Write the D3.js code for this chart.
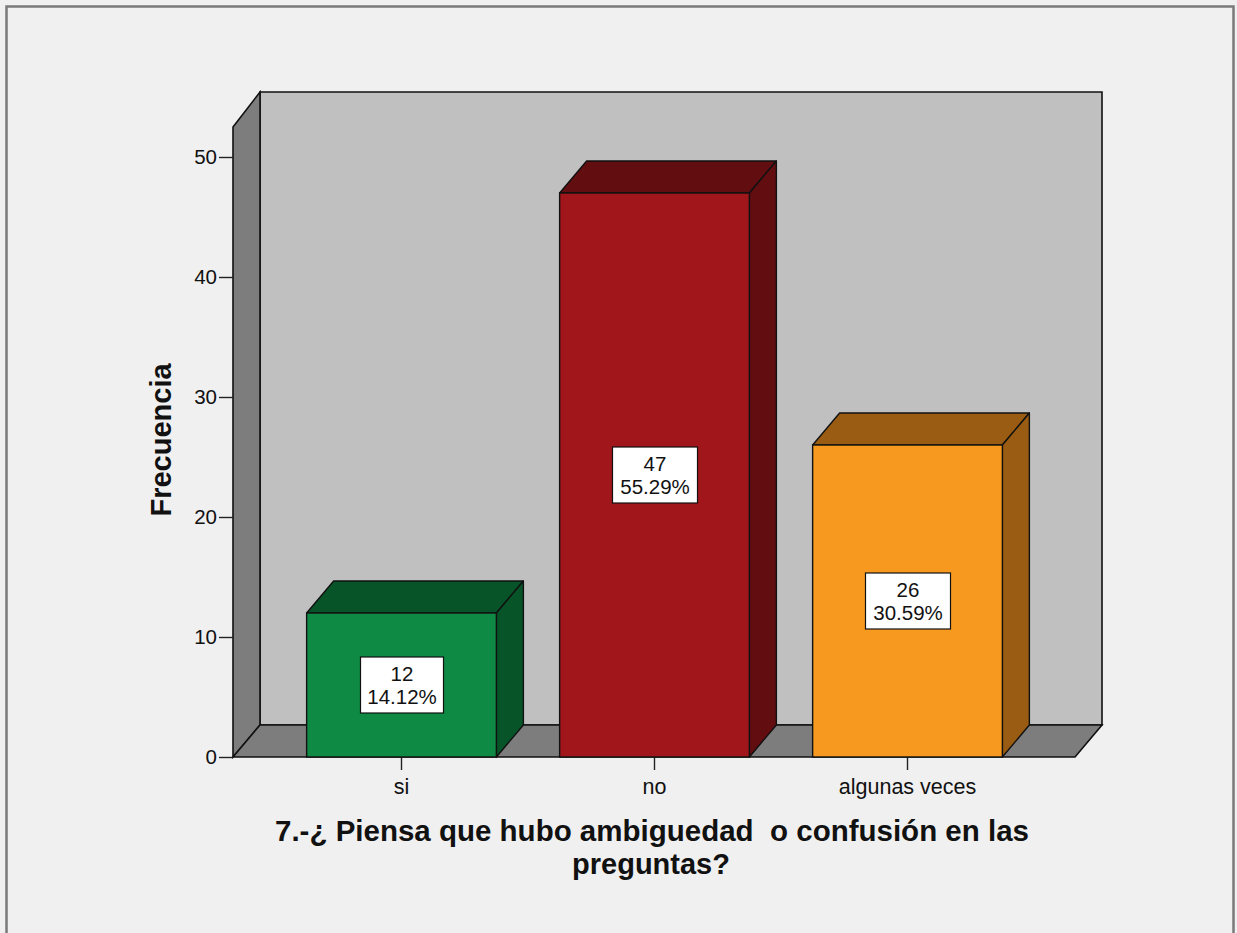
<!DOCTYPE html>
<html>
<head>
<meta charset="utf-8">
<script src="https://cdn.jsdelivr.net/npm/d3@7"></script>
<style>
  html, body { margin: 0; padding: 0; background: #f0f0f0; }
  svg { display: block; }
  text { font-family: "Liberation Sans", Arial, sans-serif; fill: #111; }
</style>
</head>
<body>
<svg id="chart" width="1237" height="933"></svg>
<script>
// Frequencies per answer
const categories = ["si", "no", "algunas veces"];
const counts = [12, 47, 26];
const percents = ["14.12%", "55.29%", "30.59%"];
const yTicks = [0, 10, 20, 30, 40, 50];
const frontColors = ["#0e8a45", "#a0161a", "#f7991f"];
const shadeColors = ["#075429", "#620e11", "#9a5c12"];

const svg = d3.select("#chart");
const W = 1237, H = 933;

// outer frame
svg.append("rect").attr("x", 0).attr("y", 0).attr("width", W).attr("height", H).attr("fill", "#f0f0f0");
svg.append("rect").attr("x", 6.5).attr("y", 6.5).attr("width", 1227).attr("height", 940)
  .attr("fill", "none").attr("stroke", "#7a7a7a").attr("stroke-width", 2.5);

// 3D depth offset
const DX = 27, DY = -32, DYtop = -35;
const left = 233, right = 1075;

const y = d3.scaleLinear().domain([0, 52.5]).range([757, 127]);
const x = d3.scaleBand().domain(categories).range([275, 1034]).paddingInner(0.25).paddingOuter(0.125);

const y0 = y(0), yTop = y(52.5);
const line = pts => "M" + pts.map(p => p.join(",")).join("L") + "Z";

// back wall
svg.append("path").attr("d", line([[left + DX, yTop + DYtop], [right + DX, yTop + DYtop], [right + DX, y0 + DY], [left + DX, y0 + DY]]))
  .attr("fill", "#c0c0c0").attr("stroke", "#111").attr("stroke-width", 1.6);
// left wall
svg.append("path").attr("d", line([[left, yTop], [left + DX, yTop + DYtop], [left + DX, y0 + DY], [left, y0]]))
  .attr("fill", "#7d7d7d").attr("stroke", "#111").attr("stroke-width", 1.6);
// floor
svg.append("path").attr("d", line([[left, y0], [left + DX, y0 + DY], [right + DX, y0 + DY], [right, y0]]))
  .attr("fill", "#7d7d7d").attr("stroke", "#111").attr("stroke-width", 1.6);

// y axis ticks and labels
const yAxis = d3.axisLeft(y).tickValues(yTicks).tickSize(14).tickPadding(2);
const ga = svg.append("g").attr("transform", `translate(${left},0)`).call(yAxis);
ga.select(".domain").remove();
ga.selectAll(".tick line").attr("stroke", "#222").attr("stroke-width", 1.4);
ga.selectAll(".tick text").attr("font-size", 20.5).attr("font-family", "Liberation Sans, Arial, sans-serif").attr("fill", "#111");

// x axis tick marks and category labels
const xAxis = d3.axisBottom(x).tickSize(13).tickPadding(9);
const gx = svg.append("g").attr("transform", `translate(0,${y0})`).call(xAxis);
gx.select(".domain").remove();
gx.selectAll(".tick line").attr("stroke", "#222").attr("stroke-width", 1.4);
gx.selectAll(".tick text").attr("font-size", 21.5).attr("font-family", "Liberation Sans, Arial, sans-serif").attr("fill", "#111");

// bars
const bars = svg.append("g");
categories.forEach((c, i) => {
  const x0 = x(c), x1 = x0 + x.bandwidth(), yt = y(counts[i]);
  const g = bars.append("g");
  // top face
  g.append("path").attr("d", line([[x0, yt], [x0 + DX, yt + DY], [x1 + DX, yt + DY], [x1, yt]]))
    .attr("fill", shadeColors[i]).attr("stroke", "#111").attr("stroke-width", 1.4).attr("stroke-linejoin", "round");
  // side face
  g.append("path").attr("d", line([[x1, yt], [x1 + DX, yt + DY], [x1 + DX, y0 + DY], [x1, y0]]))
    .attr("fill", shadeColors[i]).attr("stroke", "#111").attr("stroke-width", 1.4).attr("stroke-linejoin", "round");
  // front face
  g.append("rect").attr("x", x0).attr("y", yt).attr("width", x.bandwidth()).attr("height", y0 - yt)
    .attr("fill", frontColors[i]).attr("stroke", "#111").attr("stroke-width", 1.4);

  // value label
  const cx = x0 + x.bandwidth() / 2, cy = (yt + y0) / 2;
  const bw = i === 0 ? 83 : 85, bh = 56;
  g.append("rect").attr("x", cx - bw / 2 + 0.5).attr("y", cy - bh / 2).attr("width", bw).attr("height", bh)
    .attr("fill", "#fff").attr("stroke", "#111").attr("stroke-width", 1.2);
  g.append("text").attr("x", cx + 0.5).attr("y", cy - 4).attr("text-anchor", "middle").attr("font-size", 20.5).text(counts[i]);
  g.append("text").attr("x", cx + 0.5).attr("y", cy + 19).attr("text-anchor", "middle").attr("font-size", 20.5).text(percents[i]);
});

// axis titles
svg.append("text").attr("transform", "translate(171,440) rotate(-90)")
  .attr("text-anchor", "middle").attr("font-size", 29).attr("font-weight", "bold").text("Frecuencia");

svg.append("text").attr("x", 652).attr("y", 841).attr("text-anchor", "middle")
  .attr("font-size", 29.5).attr("font-weight", "bold")
  .style("white-space", "pre")
  .text("7.-¿ Piensa que hubo ambiguedad  o confusión en las");
svg.append("text").attr("x", 651).attr("y", 874).attr("text-anchor", "middle")
  .attr("font-size", 29).attr("font-weight", "bold")
  .text("preguntas?");
</script>
</body>
</html>
